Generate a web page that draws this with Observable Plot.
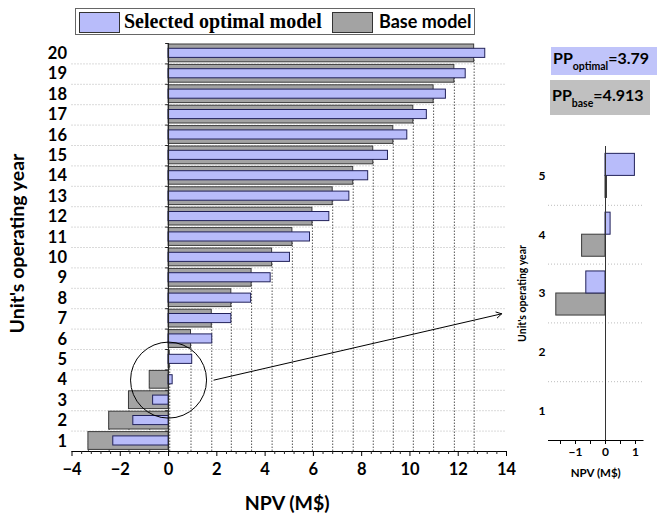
<!DOCTYPE html>
<html>
<head>
<meta charset="utf-8">
<script src="https://cdn.jsdelivr.net/npm/d3@7"></script>
<script src="https://cdn.jsdelivr.net/npm/@observablehq/plot@0.6"></script>
<style>
  html, body { margin: 0; padding: 0; background: #fff; overflow: hidden; }
  #root { position: relative; width: 657px; height: 514px; }
  #root svg { position: absolute; overflow: visible; }
  .legend { position: absolute; left: 75px; top: 8px; width: 400px; height: 27px; box-sizing: border-box; border: 1px solid #666; background: #fff; }
  .sw { position: absolute; top: 3px; height: 21px; box-sizing: border-box; border: 1px solid #333; }
  .lt { position: absolute; top: 0; line-height: 25px; font-weight: bold; color: #000; white-space: nowrap; }
  .pp { position: absolute; font-family: Lato, sans-serif; font-weight: bold; font-size: 16px; color: #000; white-space: nowrap; box-sizing: border-box; padding-left: 2px; }
  .pp sub { font-size: 10.5px; vertical-align: -6px; line-height: 0; }
</style>
</head>
<body>
<div id="root"></div>
<script>
// ---- data ----
const years = [1,2,3,4,5,6,7,8,9,10,11,12,13,14,15,16,17,18,19,20];
const optimalNPV = [-2.29,-1.46,-0.64,0.17,0.98,1.81,2.60,3.42,4.23,5.03,5.86,6.66,7.49,8.27,9.09,9.89,10.70,11.49,12.31,13.12];
const baseNPV = [-3.32,-2.46,-1.64,-0.78,0.05,0.93,1.79,2.60,3.44,4.29,5.13,5.96,6.80,7.65,8.48,9.31,10.14,10.98,11.84,12.66];
const seriesNames = ["Selected optimal model", "Base model"];
const xTicks = [-4,-2,0,2,4,6,8,10,12,14];
const insetYears = [1,2,3,4,5];
const insetShownYears = [3,4,5];
const insetXTicks = [-1.5,-1,-0.5,0,0.5,1];
const ppLabels = [{name: "PP", sub: "optimal", value: "3.79"}, {name: "PP", sub: "base", value: "4.913"}];
const zoomCircle = [{x: 0, y: 4}];
const zoomArrow = [{x1: 1.88, y1: 4.0, x2: 13.8, y2: 7.25}];

const rows = years.map((y, i) => ({year: y, optimal: optimalNPV[i], base: baseNPV[i]}));
const insetRows = rows.filter(d => insetShownYears.includes(d.year));

const BLUE = "#b8bcfa", BLUE_S = "#22225a", GRAY = "#a3a3a3", GRAY_S = "#3a3a3a";
const fmt = d => d < 0 ? "\u2212" + Math.abs(d) : String(d);

const boundaries = years.map(y => y - 0.5).concat([20.5]);
const innerBoundaries = years.slice(0, -1).map(y => y + 0.5);
const minorX = d3.range(-4, 14.001, 0.4).map(v => Math.round(v * 10) / 10).filter(v => !xTicks.includes(v));

const main = Plot.plot({
  width: 657, height: 514,
  marginLeft: 71.5, marginRight: 151, marginTop: 43, marginBottom: 63,
  style: {fontFamily: "Lato, sans-serif", fontSize: "16.5px", fontWeight: "bold", color: "#000", background: "transparent"},
  x: {domain: [-4, 14], ticks: xTicks, tickSize: 5, tickPadding: 7, tickFormat: fmt, line: true, label: null},
  y: {domain: [0.5, 20.5], ticks: years, tickSize: 0, tickPadding: 5, tickFormat: d => String(d), label: null},
  marks: [
    Plot.ruleY(innerBoundaries, {y: d => d, x1: -4, x2: 14, stroke: "#b5b5b5", strokeDasharray: "1,2"}),
    Plot.ruleX(rows, {x: "base", y1: 0.5, y2: "year", stroke: "#555", strokeDasharray: "1.5,1.5"}),
    Plot.rect(rows, {x1: 0, x2: "base", y1: d => d.year - 0.5, y2: d => d.year + 0.5, insetTop: 1, insetBottom: 1.6, fill: GRAY, stroke: GRAY_S}),
    Plot.rect(rows, {x1: 0, x2: "optimal", y1: d => d.year - 0.5, y2: d => d.year + 0.5, insetTop: 5.3, insetBottom: 6, fill: BLUE, stroke: BLUE_S}),
    Plot.ruleX([0], {stroke: "#222"}),
    Plot.ruleY(boundaries, {y: d => d, x1: -0.12, x2: 0, stroke: "#222"}),
    Plot.ruleX(minorX, {x: d => d, y1: 0.5, y2: 0.5 - 3 / 20.4, stroke: "#222"}),
    Plot.dot(zoomCircle, {x: "x", y: "y", r: 38, stroke: "#000", fill: "none", strokeWidth: 1}),
    Plot.arrow(zoomArrow, {x1: "x1", y1: "y1", x2: "x2", y2: "y2", stroke: "#000", strokeWidth: 1, headLength: 9}),
    Plot.text(["Unit's operating year"], {text: d => d, frameAnchor: "left", textAnchor: "middle", rotate: -90, dx: -54, dy: -4, fontSize: 19.5, fontWeight: "bold"}),
    Plot.text(["NPV (M$)"], {text: d => d, frameAnchor: "bottom", dx: -2, dy: 58, fontSize: 19.5, fontWeight: "bold"})
  ]
});
main.style.left = "0px"; main.style.top = "0px";

const inset = Plot.plot({
  width: 157, height: 340,
  marginLeft: 48, marginRight: 14.5, marginTop: 6, marginBottom: 40,
  style: {fontFamily: "Lato, sans-serif", fontSize: "12px", fontWeight: "bold", color: "#000", background: "transparent"},
  x: {domain: [-1.9, 1.25], ticks: insetXTicks, tickSize: 4, tickPadding: 3, tickFormat: d => Number.isInteger(d) ? fmt(d) : "", line: true, label: null},
  y: {domain: [0.5, 5.5], ticks: insetYears, tickSize: 0, tickPadding: 3, tickFormat: d => String(d), label: null},
  marks: [
    Plot.ruleY(insetYears.slice(0, -1).map(y => y + 0.5), {y: d => d, x1: -1.9, x2: 1.25, stroke: "#bdbdbd", strokeDasharray: "1,2"}),
    Plot.rect(insetRows, {x1: 0, x2: "base", y1: d => d.year - 0.375, y2: d => d.year, fill: GRAY, stroke: GRAY_S}),
    Plot.rect(insetRows, {x1: 0, x2: "optimal", y1: d => d.year, y2: d => d.year + 0.375, fill: BLUE, stroke: BLUE_S}),
    Plot.ruleX([0], {stroke: "#333"}),
    Plot.text(["Unit's operating year"], {text: d => d, frameAnchor: "left", textAnchor: "middle", rotate: -90, dx: -26.3, fontSize: 10.5, fontWeight: "bold"}),
    Plot.text(["NPV (M$)"], {text: d => d, frameAnchor: "bottom", dy: 36, fontSize: 11.5, fontWeight: "bold"})
  ]
});
inset.style.left = "500px"; inset.style.top = "140px";

const root = document.getElementById("root");
root.appendChild(main);
root.appendChild(inset);

// legend
const legend = document.createElement("div");
legend.className = "legend";
legend.innerHTML =
  `<div class="sw" style="left:3px;width:41px;background:${BLUE};"></div>` +
  `<div class="lt" style="left:48px;font-family:'Liberation Serif',serif;font-size:20px;">${seriesNames[0]}</div>` +
  `<div class="sw" style="left:256px;width:41px;background:${GRAY};"></div>` +
  `<div class="lt" style="left:303px;font-family:Lato,sans-serif;font-size:18px;">${seriesNames[1]}</div>`;
root.appendChild(legend);

// PP boxes
const ppStyles = [
  {left: 551, top: 47, width: 106, height: 28, bg: "#c0c4fa", lh: 22},
  {left: 550, top: 80, width: 100, height: 35, bg: "#c0c0c0", lh: 29}
];
ppLabels.forEach((p, i) => {
  const s = ppStyles[i];
  const div = document.createElement("div");
  div.className = "pp";
  div.style.cssText = `left:${s.left}px;top:${s.top}px;width:${s.width}px;height:${s.height}px;background:${s.bg};line-height:${s.lh}px;`;
  div.innerHTML = `${p.name}<sub>${p.sub}</sub>=${p.value}`;
  root.appendChild(div);
});
</script>
</body>
</html>
